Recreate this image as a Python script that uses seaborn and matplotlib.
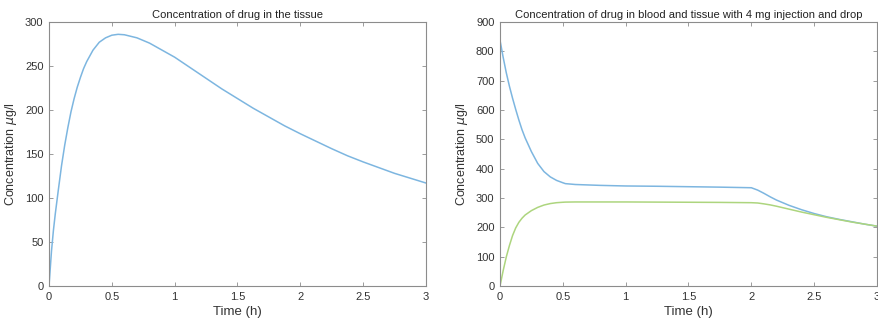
import numpy as np
import pandas as pd
import seaborn as sns
import matplotlib
matplotlib.use("Agg")
import matplotlib.pyplot as plt

# Tissue concentration (left panel)
t_tissue = [0, 0.01, 0.02, 0.035, 0.05, 0.075, 0.1, 0.125, 0.15, 0.175, 0.2, 0.225, 0.25,
            0.275, 0.3, 0.35, 0.4, 0.45, 0.5, 0.55, 0.6, 0.7, 0.8, 0.9, 1.0, 1.125, 1.25,
            1.375, 1.5, 1.625, 1.75, 1.875, 2.0, 2.125, 2.25, 2.375, 2.5, 2.625, 2.75,
            2.875, 3.0]
c_tissue = [0, 20, 40, 63, 82, 110, 137, 160, 180, 198, 213, 226, 237,
            247, 255, 268, 277, 282, 285, 286, 285.5, 282, 276, 268, 260, 248, 236,
            224, 213, 202, 192, 182, 173, 164.5, 156, 148, 141, 134.5, 128,
            122.5, 117]

# Blood and tissue with injection and drop (right panel)
t_both = [0, 0.025, 0.05, 0.075, 0.1, 0.125, 0.15, 0.175, 0.2, 0.25, 0.3, 0.35, 0.4,
          0.45, 0.5, 0.52, 0.6, 0.8, 1.0, 1.25, 1.5, 1.75, 2.0, 2.05, 2.1, 2.15,
          2.2, 2.3, 2.4, 2.5, 2.6, 2.7, 2.8, 2.9, 3.0]
c_blood = [838, 780, 727, 681, 640, 602, 566, 533, 505, 458, 418, 390, 372,
           360, 352, 349, 346, 343, 341, 340, 338.5, 337, 335, 327, 316, 304,
           293, 275, 260, 247, 236, 227, 219, 211, 204]
c_tis2 = [0, 52, 99, 138, 172, 198, 217, 231, 242, 257, 268, 276, 281,
          284, 285.5, 286, 286.5, 286.5, 286.5, 286, 285.5, 285, 284, 283, 280, 276.5,
          272, 262, 252, 243, 234, 226, 218, 211, 204]

blue = "#7db6e0"
green = "#add57e"
axis_col = "#8c8c8c"
text_col = "#333333"

sns.set_style("white")
plt.rcParams["font.family"] = ["Liberation Sans", "DejaVu Sans"]
plt.rcParams["mathtext.fontset"] = "dejavusans"

fig = plt.figure(figsize=(8.79, 3.24), dpi=100)
ax1 = fig.add_axes([49 / 879, 1 - 286 / 324, 377 / 879, 264 / 324])
ax2 = fig.add_axes([500 / 879, 1 - 286 / 324, 377 / 879, 264 / 324])

df1 = pd.DataFrame({"t": t_tissue, "c": c_tissue})
sns.lineplot(data=df1, x="t", y="c", ax=ax1, color=blue, linewidth=1.1)

df2 = pd.DataFrame({"t": t_both, "blood": c_blood, "tissue": c_tis2})
sns.lineplot(data=df2, x="t", y="blood", ax=ax2, color=blue, linewidth=1.1)
sns.lineplot(data=df2, x="t", y="tissue", ax=ax2, color=green, linewidth=1.1)

for ax, ymax, yticks, title in [
    (ax1, 300, np.arange(0, 301, 50), "Concentration of drug in the tissue"),
    (ax2, 900, np.arange(0, 901, 100),
     "Concentration of drug in blood and tissue with 4 mg injection and drop"),
]:
    ax.set_xlim(0, 3)
    ax.set_ylim(0, ymax)
    ax.set_xticks([0, 0.5, 1, 1.5, 2, 2.5, 3])
    ax.set_xticklabels(["0", "0.5", "1", "1.5", "2", "2.5", "3"])
    ax.set_yticks(yticks)
    ax.tick_params(direction="in", length=3, width=0.6, colors=axis_col,
                   labelcolor=text_col, labelsize=8, top=True, right=True,
                   bottom=True, left=True, pad=4)
    for sp in ax.spines.values():
        sp.set_visible(True)
        sp.set_color(axis_col)
        sp.set_linewidth(0.8)
    ax.set_title(title, fontsize=8, color="#222222", pad=3)
    ax.set_xlabel("Time (h)", fontsize=9.5, color=text_col, labelpad=3)
    ax.set_ylabel("Concentration $\\mu$g/l", fontsize=9, color=text_col, labelpad=4)

fig.savefig("out.png", dpi=100)
